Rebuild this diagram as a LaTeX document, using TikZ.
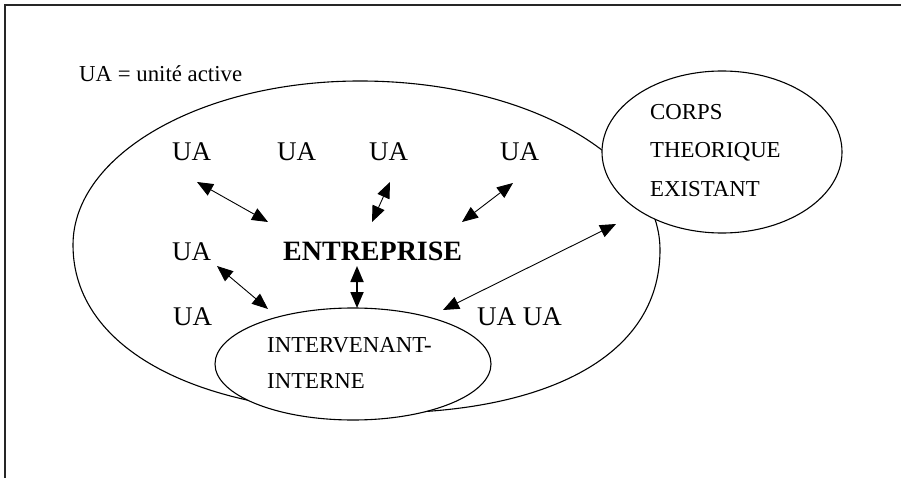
\documentclass[tikz,border=0pt]{standalone}
\usepackage{fontspec}
\setmainfont{Liberation Serif}
\usetikzlibrary{arrows.meta,shapes.geometric}
\begin{document}
\begin{tikzpicture}[x=1pt,y=-1pt,
  lbl/.style={anchor=base west,inner sep=0pt,font=\fontsize{22.8}{27}\selectfont},
  ua/.style={anchor=base west,inner sep=0pt,font=\fontsize{27}{31}\selectfont},
  link/.style={line width=0.9pt,{Triangle[length=16pt,width=13pt]}-{Triangle[length=16pt,width=13pt]}},
  outline/.style={line width=1.1pt},
  bubble/.style={draw,ellipse,outline,fill=white,inner sep=0pt}]
\useasboundingbox (0,0) rectangle (901,478);
% page frame (top and left edges)
\draw[line width=1.5pt,black!85] (901,5) -- (5,5) -- (5,478);

% the enterprise: a slightly egg-shaped oval
\draw[outline] (73,245)
  .. controls (73,154.5) and (201.6,81) .. (360,81)
  .. controls (525.6,81) and (660,156.7) .. (660,250)
  .. controls (660,360) and (540,413) .. (380,413)
  .. controls (200,414) and (73,350) .. (73,245) -- cycle;

% existing theory and internal actor bubbles
\node[bubble,minimum width=240pt,minimum height=162pt] (corps) at (722,152) {};
\node[bubble,minimum width=276pt,minimum height=112pt] (interv) at (353,364) {};

% legend
\node[lbl] (legend) at (79,82) {UA = unité active};

% active units and enterprise
\node[ua] (ua1) at (172,161) {UA};
\node[ua] (ua2) at (277,161) {UA};
\node[ua] (ua3) at (369,161) {UA};
\node[ua] (ua4) at (500,161) {UA};
\node[ua] (ua5) at (172,260) {UA};
\node[anchor=base west,inner sep=0pt,font=\fontsize{28}{32}\selectfont\bfseries] (ent) at (283,260) {ENTREPRISE};
\node[ua] (ua6) at (173,325) {UA};
\node[ua] (ua7) at (477,325) {UA UA};

% bubble texts
\node[lbl] (int1) at (267,352) {INTERVENANT-};
\node[lbl] (int2) at (267,388) {INTERNE};
\node[lbl] (cp1) at (650,120) {CORPS};
\node[lbl] (cp2) at (650,158) {THEORIQUE};
\node[lbl] (cp3) at (650,197) {EXISTANT};

% arrow end points
\coordinate (a1) at (197,182);  \coordinate (b1) at (268,222);
\coordinate (a2) at (390,182);  \coordinate (b2) at (372,222);
\coordinate (a3) at (513,183);  \coordinate (b3) at (462,222);
\coordinate (a4) at (217,266);  \coordinate (b4) at (268,309);
\coordinate (a5) at (357,266);  \coordinate (b5) at (357,308);
\coordinate (a6) at (616,224);  \coordinate (b6) at (443,310);

% exchanges
\draw[link] (a1) -- (b1);
\draw[link] (a2) -- (b2);
\draw[link] (a3) -- (b3);
\draw[link] (a4) -- (b4);
\draw[link,line width=1.8pt] (a5) -- (b5);
\draw[link] (a6) -- (b6);
\end{tikzpicture}
\end{document}
